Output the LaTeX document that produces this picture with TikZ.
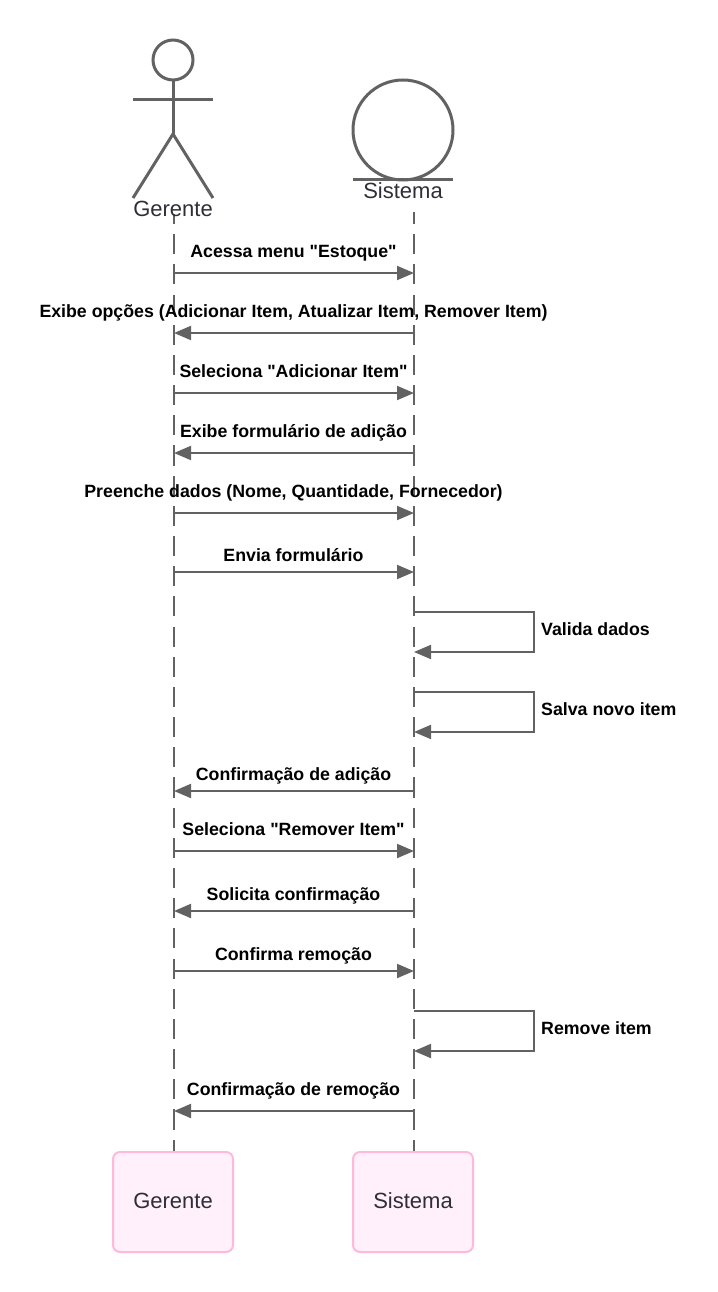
\documentclass[tikz,border=0pt]{standalone}
\usepackage{fontspec}
\setmainfont{Liberation Sans}[Ligatures=TeXOff]
\usetikzlibrary{arrows.meta}
\definecolor{lineGray}{HTML}{626262}
\definecolor{textDark}{HTML}{2E2E38}
\definecolor{boxFill}{HTML}{FFF0FB}
\definecolor{boxEdge}{HTML}{FFB9DB}

\tikzset{
  lifeline/.style={draw=lineGray,line width=2pt,dash pattern=on 20.12pt off 10.06pt},
  message/.style={draw=lineGray,line width=2pt,-{Triangle[length=17pt,width=14pt]}},
  msglabel/.style={font=\fontsize{17.75}{20}\selectfont\bfseries,inner sep=0pt,text=black},
  figure/.style={draw=lineGray,line width=3pt},
  actorlabel/.style={font=\fontsize{22}{25}\selectfont,inner sep=0pt,text=textDark},
  footbox/.style={draw=boxEdge,fill=boxFill,line width=2pt,rounded corners=7pt,minimum width=120pt,minimum height=100pt,inner sep=0pt}
}

\begin{document}
\begin{tikzpicture}[x=1pt,y=-1pt]
  \useasboundingbox (0,0) rectangle (717,1292);

  \coordinate (G) at (174,0);
  \coordinate (S) at (414,0);

  % bottom boxes
  \node[footbox,actorlabel] (gerenteFoot) at (173,1202) {\raisebox{3pt}{Gerente}};
  \node[footbox,actorlabel] (sistemaFoot) at (413,1202) {\raisebox{3pt}{Sistema}};

  % lifelines
  \coordinate (gerenteTop) at (174,214);
  \coordinate (sistemaTop) at (414,212);
  \draw[lifeline,dash phase=10pt] (gerenteTop) -- (gerenteTop |- gerenteFoot.north);
  \draw[lifeline,dash phase=8pt] (sistemaTop) -- (sistemaTop |- sistemaFoot.north);

  % actor
  \node[figure,circle,minimum size=40pt,inner sep=0pt] (head) at (173,60) {};
  \coordinate (armL) at (133,99.5);
  \coordinate (armR) at (213,99.5);
  \coordinate (hip) at (173,134);
  \coordinate (footL) at (133,198);
  \coordinate (footR) at (213,198);
  \draw[figure] (head.south) -- (hip);
  \draw[figure] (armL) -- (armR);
  \draw[figure] (footL) -- (hip) -- (footR);
  \node[actorlabel] (gerenteTitle) at (173,208.5) {Gerente};

  % entity
  \node[figure,circle,minimum size=100pt,inner sep=0pt] (entity) at (403,130) {};
  \coordinate (baseL) at (353,180);
  \coordinate (baseR) at (453,180);
  \draw[figure] (baseL) -- (baseR);
  \node[actorlabel] (sistemaTitle) at (403,191) {Sistema};

  % messages left to right
  \foreach \n/\y/\ly/\txt in {
    a/273/253/{Acessa menu "Estoque"},
    c/393/371/{Seleciona "Adicionar Item"},
    e/513/493/{Preenche dados (Nome, Quantidade, Fornecedor)},
    f/572/555/{Envia formulário},
    j/851/829/{Seleciona "Remover Item"},
    l/971/956/{Confirma remoção}} {
    \coordinate (from\n) at (G |- 0,\y);
    \coordinate (to\n) at (S |- 0,\y);
    \draw[message] (from\n) -- (to\n);
    \node[msglabel] (label\n) at (293.5,\ly) {\txt};
  }

  % messages right to left
  \foreach \n/\y/\ly/\txt in {
    b/333/313/{Exibe opções (Adicionar Item, Atualizar Item, Remover Item)},
    d/453/433/{Exibe formulário de adição},
    i/791/776/{Confirmação de adição},
    k/911/896/{Solicita confirmação},
    n/1111/1091/{Confirmação de remoção}} {
    \coordinate (from\n) at (S |- 0,\y);
    \coordinate (to\n) at (G |- 0,\y);
    \draw[message] (from\n) -- (to\n);
    \node[msglabel] (label\n) at (293.5,\ly) {\txt};
  }

  % self messages
  \foreach \n/\y/\txt in {
    g/612/{Valida dados},
    h/692/{Salva novo item},
    m/1011/{Remove item}} {
    \coordinate (from\n) at (S |- 0,\y);
    \coordinate (to\n) at (S |- 0,\y+40);
    \draw[message] (from\n) -- ++(120,0) |- (to\n);
    \node[msglabel,anchor=west] (label\n) at (541,\y+17) {\txt};
  }
\end{tikzpicture}
\end{document}
